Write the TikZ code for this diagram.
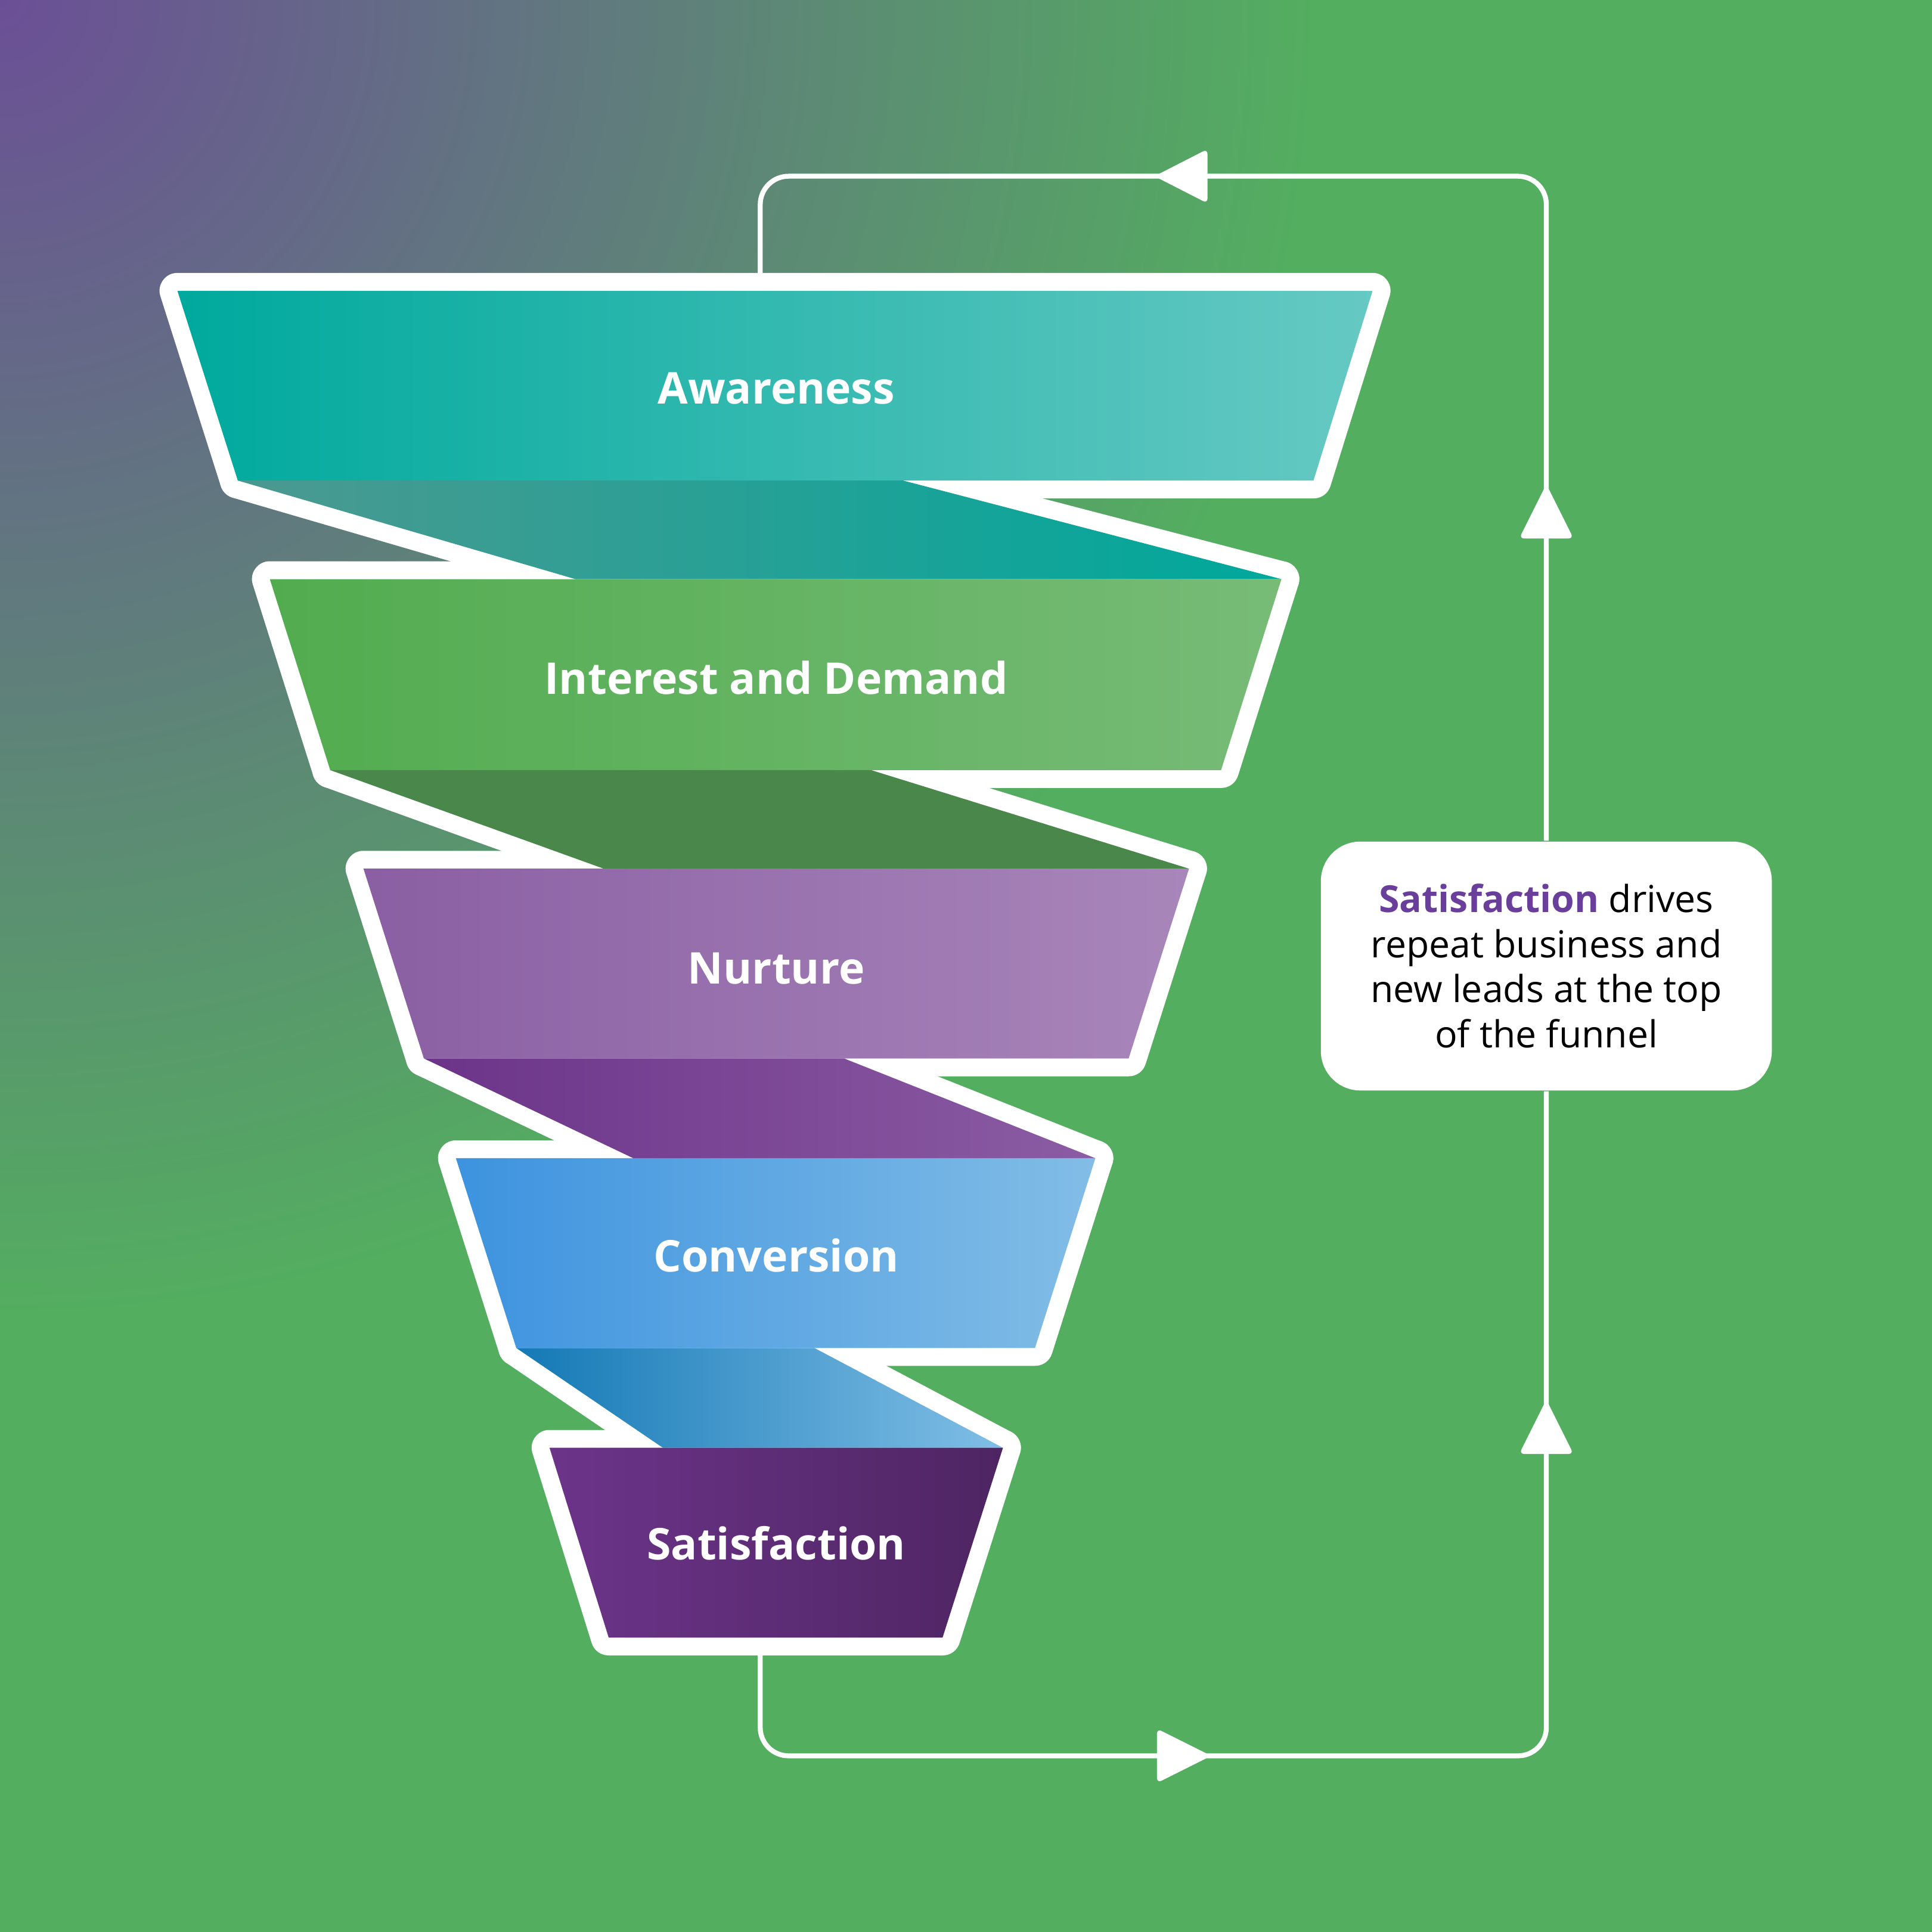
\documentclass[tikz,border=0pt]{standalone}
\usepackage{fontspec}
\setmainfont{Open Sans}
\definecolor{bggreen}{HTML}{53AF5F}
\definecolor{tlpurple}{HTML}{6B4F96}
\definecolor{satpurple}{HTML}{6A3F9C}
\definecolor{bAl}{HTML}{00A99D}\definecolor{bAr}{HTML}{66C9C3}
\definecolor{fAl}{HTML}{4B9990}\definecolor{fAr}{HTML}{00A89C}
\definecolor{bBl}{HTML}{52AC4F}\definecolor{bBr}{HTML}{77BB77}
\definecolor{fB}{HTML}{4A874B}
\definecolor{bCl}{HTML}{8A5FA3}\definecolor{bCr}{HTML}{A886BA}
\definecolor{fCl}{HTML}{6C3489}\definecolor{fCr}{HTML}{8B5CA3}
\definecolor{bDl}{HTML}{3D93DF}\definecolor{bDr}{HTML}{82BDE6}
\definecolor{fDl}{HTML}{1479B5}\definecolor{fDr}{HTML}{80BEE6}
\definecolor{bEl}{HTML}{6C348A}\definecolor{bEr}{HTML}{4E2562}
\def\fnlBandA{(144,236) -- (1114,236) -- (1066,390) -- (193,390) -- cycle}
\def\fnlFoldA{(193,390) -- (733,390) -- (1040,470) -- (467,470) -- cycle}
\def\fnlBandB{(219,470) -- (1040,470) -- (991,625) -- (268,625) -- cycle}
\def\fnlFoldB{(268,625) -- (707,625) -- (965,705) -- (490,705) -- cycle}
\def\fnlBandC{(295,705) -- (965,705) -- (916,859) -- (344,859) -- cycle}
\def\fnlFoldC{(344,859) -- (685,859) -- (889,940) -- (514,940) -- cycle}
\def\fnlBandD{(370,940) -- (889,940) -- (840,1094) -- (419,1094) -- cycle}
\def\fnlFoldD{(419,1094) -- (661,1094) -- (814,1175) -- (538,1175) -- cycle}
\def\fnlBandE{(446,1175) -- (814,1175) -- (765,1329) -- (494,1329) -- cycle}
\begin{document}
\begin{tikzpicture}[x=0.1mm,y=-0.1mm,
  rim/.style={draw=white, fill=white, line width=2.9mm, line join=round},
  lbl/.style={text=white, font=\fontsize{10.1pt}{12pt}\selectfont\bfseries, anchor=base, inner sep=0pt},
  loopline/.style={draw=white, line width=0.4mm, rounded corners=2.3mm},
  tip/.style={fill=white, rounded corners=0.4mm},
  note/.style={fill=white, rounded corners=3.2mm, minimum width=36.6mm, minimum height=20.2mm,
    inner sep=0pt, align=center, text=black, font=\fontsize{8.6pt}{10.4pt}\selectfont}]
\useasboundingbox (0,0) rectangle (1568,1568);
\fill[bggreen] (0,0) rectangle (1568,1568);
\begin{scope}
  \clip (0,0) rectangle (1568,1568);
  \shade[inner color=tlpurple, outer color=bggreen] (0,0) circle (108mm);
\end{scope}
% feedback loop
\coordinate (ftop) at (617,240);
\coordinate (fbot) at (617,1325);
\coordinate (ctl) at (617,143);
\coordinate (ctr) at (1255,143);
\coordinate (cbr) at (1255,1425);
\coordinate (cbl) at (617,1425);
\node[note] (note) at (1255,784) {{\color{satpurple}\bfseries Satisfaction} drives\\repeat business and\\new leads at the top\\of the funnel};
\draw[loopline] (ftop) -- (ctl) -- (ctr) -- (note.north);
\draw[loopline] (note.south) -- (cbr) -- (cbl) -- (fbot);
\fill[tip] (937,143) -- (980,121) -- (980,165) -- cycle;
\fill[tip] (1255,393) -- (1277,437) -- (1233,437) -- cycle;
\fill[tip] (1255,1136) -- (1277,1180) -- (1233,1180) -- cycle;
\fill[tip] (983,1425) -- (939,1403) -- (939,1447) -- cycle;
% funnel white rim
\path[rim] \fnlBandA;
\path[rim] \fnlFoldA;
\path[rim] \fnlBandB;
\path[rim] \fnlFoldB;
\path[rim] \fnlBandC;
\path[rim] \fnlFoldC;
\path[rim] \fnlBandD;
\path[rim] \fnlFoldD;
\path[rim] \fnlBandE;
% funnel fills
\shade[left color=bAl, right color=bAr] \fnlBandA;
\shade[left color=fAl, right color=fAr] \fnlFoldA;
\shade[left color=bBl, right color=bBr] \fnlBandB;
\fill[fB] \fnlFoldB;
\shade[left color=bCl, right color=bCr] \fnlBandC;
\shade[left color=fCl, right color=fCr] \fnlFoldC;
\shade[left color=bDl, right color=bDr] \fnlBandD;
\shade[left color=fDl, right color=fDr] \fnlFoldD;
\shade[left color=bEl, right color=bEr] \fnlBandE;
% labels
\node[lbl] (aw) at (630,328) {Awareness};
\node[lbl] (id) at (630,563.5) {Interest and Demand};
\node[lbl] (nu) at (630,798.5) {Nurture};
\node[lbl] (co) at (630,1032) {Conversion};
\node[lbl] (sa) at (630,1266) {Satisfaction};
\end{tikzpicture}
\end{document}
